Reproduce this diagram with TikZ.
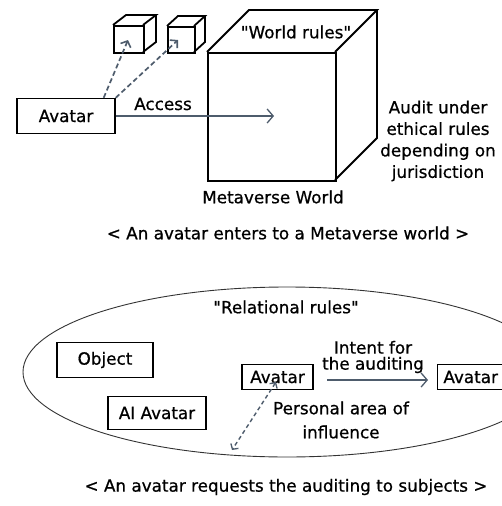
\documentclass[tikz,border=0pt]{standalone}
\usepackage{fontspec}
\setmainfont{DejaVu Sans}[Ligatures=TeXOff, FakeBold=0.7]
\usetikzlibrary{arrows.meta}
\definecolor{arr}{HTML}{4E5C6C}
\tikzset{
  box/.style={draw=black, line width=1.4pt, inner sep=0pt, minimum height=34pt},
  cube/.style={draw=black, line width=1.8pt, line join=miter},
  lbl/.style={inner sep=0pt, align=center},
  solidarr/.style={draw=arr, line width=1.2pt, -{Straight Barb[length=6pt,width=14pt,line width=1.3pt]}},
  dasharr/.style={draw=arr, line width=1.7pt, dash pattern=on 5pt off 3pt, -{Straight Barb[length=5pt,width=11pt,line width=1.6pt]}},
  dasharr2/.style={draw=arr, line width=1.4pt, dash pattern=on 4pt off 3pt, {Straight Barb[length=4pt,width=9pt,line width=1.3pt]}-{Straight Barb[length=4pt,width=9pt,line width=1.3pt]}},
}
\begin{document}
\begin{tikzpicture}[x=1pt,y=-1pt,font=\fontsize{16.8}{20}\selectfont]
\useasboundingbox (0,0) rectangle (502,506);
% big cube
\draw[cube] (207,52) -- (249,10) -- (377,10) -- (335,52);
\draw[cube] (377,10) -- (377,138) -- (335,180);
\node[cube, minimum width=128pt, minimum height=128pt, inner sep=0pt, anchor=north west] (world) at (207,52) {};
% small cubes
\draw[cube] (113,25) -- (126,15) -- (156,15) -- (143,25);
\draw[cube] (156,15) -- (156,42) -- (143,52);
\node[cube, minimum width=30pt, minimum height=27pt, inner sep=0pt, anchor=north west] (c1) at (113,25) {};
\draw[cube] (167,26) -- (178,16) -- (205,16) -- (194,26);
\draw[cube] (205,16) -- (205,42) -- (194,52);
\node[cube, minimum width=27pt, minimum height=26pt, inner sep=0pt, anchor=north west] (c2) at (167,26) {};
\coordinate (t1) at (128,40);
\coordinate (t2) at (178,40);
\coordinate (tw) at (274,116);
% avatar
\node[box, minimum width=98pt, minimum height=35pt] (av) at (66,116) {Avatar};
\draw[dasharr] (av.north east) ++(-12,0) -- (t1);
\draw[dasharr] (av.north east) -- (t2);
\draw[solidarr] (av.east) -- (tw);
\node[lbl] (acc) at (163,104) {Access};
\node[lbl] (wr) at (296,32) {"World rules"};
\node[lbl] (mw) at (273,197) {Metaverse World};
\node[lbl, font=\fontsize{16.8}{21.5}\selectfont] (aud) at (438,141) {Audit under\\ethical rules\\depending on\\jurisdiction};
\node[lbl] (cap1) at (288,233) {< An avatar enters to a Metaverse world >};
% bottom
\draw[line width=0.9pt, draw=black!80] (287,372) ellipse [x radius=264pt, y radius=85pt];
\node[lbl] (rr) at (286,307) {"Relational rules"};
\node[box, minimum width=96pt, minimum height=35pt] (obj) at (105,360) {Object};
\node[box, minimum width=98pt, minimum height=33pt] (ai) at (157,413) {AI Avatar};
\node[box, minimum width=71pt, minimum height=25pt] (av2) at (277.5,377) {Avatar};
\node[box, minimum width=66pt, minimum height=25pt, anchor=west] (av3) at (437,377) {Avatar};
\node[lbl, font=\fontsize{16.8}{16}\selectfont] (int) at (373,357) {Intent for\\the auditing};
\coordinate (ia) at (327,380);
\coordinate (ib) at (428,380);
\draw[solidarr] (ia) -- (ib);
\node[lbl, font=\fontsize{16.8}{24}\selectfont] (pa) at (341,420) {Personal area of\\influence};
\coordinate (pb) at (232,450);
\draw[dasharr2] (276,382) -- (pb);
\node[lbl] (cap2) at (286,487) {< An avatar requests the auditing to subjects >};
\end{tikzpicture}
\end{document}
